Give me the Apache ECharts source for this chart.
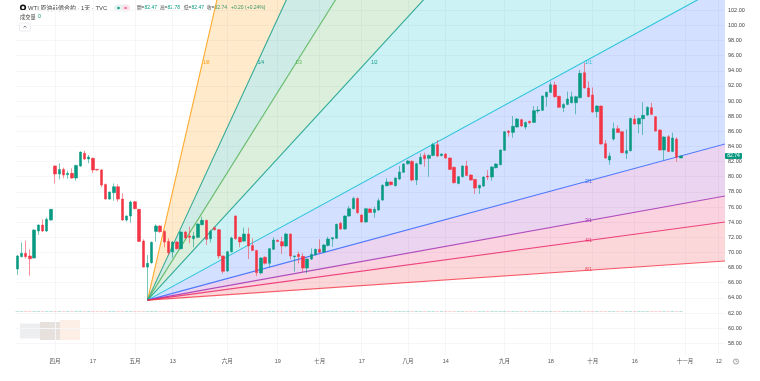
<!DOCTYPE html>
<html><head><meta charset="utf-8">
<style>html,body{margin:0;padding:0;background:#fff}#c{width:760px;height:381px;filter:blur(0.35px)}</style>
<script src="https://cdn.jsdelivr.net/npm/echarts@6/dist/echarts.min.js"></script>
</head><body><div id="c"></div>
<script>
// [open, close, low, high]
const candles = [
[67.81,69.53,67.02,69.66],[69.44,69.88,69.35,71.33],[69.88,69.44,69.2,71.55],[69.53,69.17,66.93,70.41],[69.26,72.96,69.2,73.05],
[72.83,73.62,72.3,73.7],[73.62,72.83,72.7,74.37],[72.83,74.37,72.7,74.63],[74.28,75.69,74.2,75.75],[81.41,80.36,79.12,81.5],
[80.36,80.97,79.65,81.77],[80.97,80.23,79.79,81.2],[80.27,80.45,79.74,80.8],[80.45,79.83,79.74,81.1],[79.83,81.5,79.48,81.6],
[81.41,83.26,81.3,83.35],[83.09,82.34,82.2,83.44],[82.34,82.6,81.77,82.87],[82.43,80.89,80.45,82.56],[80.97,80.89,80.8,81.05],
[80.89,78.9,78.6,81.0],[78.99,77.05,77.0,79.1],[77.05,77.98,76.95,78.05],[77.89,78.68,76.83,79.12],[78.68,77.05,76.7,79.0],
[77.05,74.28,74.2,77.8],[74.28,74.81,74.06,74.9],[74.81,76.66,73.93,76.84],[76.7,75.78,75.7,76.8],[75.69,71.46,71.4,75.75],
[71.5,68.07,68.0,71.73],[68.07,68.56,63.7,69.66],[68.65,71.33,68.5,71.45],[72.78,73.49,71.42,73.71],[73.49,72.74,72.6,73.6],
[72.78,71.37,70.67,72.9],[71.46,69.97,69.66,71.86],[70.05,71.37,69.3,71.5],[71.37,70.49,70.4,71.5],[70.49,72.7,70.4,72.8],
[72.7,71.9,71.8,72.8],[72.17,71.99,71.2,73.4],[71.81,72.17,70.67,72.74],[71.99,73.75,71.9,73.85],[73.66,74.24,73.6,74.72],
[74.24,71.73,70.98,74.3],[71.81,72.78,71.3,73.0],[73.27,73.0,72.9,73.4],[73.0,69.53,69.17,73.1],[69.53,67.5,67.2,69.6],
[67.54,70.1,67.45,70.2],[70.1,71.9,70.0,72.08],[74.81,71.81,71.7,74.9],[71.99,71.37,70.67,72.1],[71.5,72.43,71.37,73.27],
[72.43,70.85,69.13,73.27],[70.93,70.27,70.2,71.86],[70.27,67.32,66.88,70.3],[67.28,69.26,67.1,69.4],[69.35,68.56,68.4,69.5],
[68.56,70.49,68.03,70.6],[70.41,71.64,70.3,71.99],[71.6,71.46,71.4,71.7],[71.42,70.85,69.79,72.08],[70.85,72.43,70.7,72.61],
[72.43,69.53,69.08,72.5],[69.44,69.53,67.46,69.6],[69.75,69.44,68.56,70.1],[69.48,67.94,67.46,69.9],[67.94,69.13,67.24,69.2],
[69.13,69.75,69.0,70.54],[69.7,70.41,69.6,70.5],[70.41,70.01,69.9,71.73],[70.05,70.98,69.9,71.1],[70.93,71.77,70.8,72.08],
[71.77,71.95,70.76,72.0],[71.86,73.71,71.8,73.8],[73.84,73.09,73.0,74.06],[73.09,74.81,73.0,74.9],[74.81,75.78,74.7,76.13],
[75.78,77.14,75.7,77.36],[77.14,75.25,75.1,77.25],[74.94,74.02,73.95,75.05],[74.02,75.78,73.95,75.85],[75.73,75.29,75.2,75.85],
[75.29,75.69,74.59,76.04],[75.6,76.84,75.5,77.14],[76.92,78.86,76.8,79.0],[78.82,79.3,78.7,79.79],[79.3,78.95,78.85,79.4],
[78.82,79.83,78.7,79.9],[79.7,80.62,79.6,81.41],[80.58,81.68,80.5,81.8],[81.72,82.07,81.6,82.2],[82.03,79.56,79.4,82.2],
[79.56,81.72,78.9,81.85],[81.68,82.56,81.6,83.09],[82.82,82.38,81.33,83.18],[82.43,82.82,80.0,82.95],[82.82,84.23,82.7,84.5],
[84.23,82.74,82.6,84.85],[82.78,83.0,82.7,83.1],[83.0,82.47,82.4,83.1],[82.47,80.97,80.9,82.55],[81.24,79.21,79.1,81.35],
[79.12,80.0,79.0,80.1],[80.0,81.41,79.9,81.5],[81.41,80.18,80.1,82.12],[80.23,79.56,79.5,80.3],[79.65,78.51,77.72,79.7],
[78.51,78.86,77.72,78.95],[78.77,79.96,78.65,80.05],[80.09,79.96,79.56,80.89],[79.96,81.28,79.48,81.4],[81.2,81.68,81.1,81.8],
[81.59,83.53,81.5,83.6],[83.49,85.95,83.4,86.05],[86.04,85.86,85.29,86.15],[85.86,86.66,85.16,88.02],[86.57,87.62,86.5,87.75],
[87.54,86.7,86.6,87.65],[86.57,87.18,86.26,87.3],[87.32,87.14,87.0,87.4],[87.18,88.73,87.1,89.34],[88.68,88.81,88.37,89.34],
[88.77,90.66,88.7,90.75],[90.57,91.15,89.25,91.25],[91.15,92.16,91.05,92.56],[92.12,90.57,90.45,92.56],[90.62,89.17,89.1,90.7],
[89.12,89.56,88.55,89.7],[89.56,90.27,89.45,91.24],[89.78,90.57,89.7,91.24],[89.78,90.57,88.24,90.7],[90.44,93.66,90.35,94.1],
[93.75,91.72,91.65,95.07],[91.72,90.57,90.5,92.6],[90.8,88.55,88.45,91.8],[88.6,89.34,87.8,89.45],[89.34,84.32,84.25,89.4],
[84.37,82.47,82.4,84.85],[82.21,82.74,81.59,83.18],[84.98,86.35,84.76,87.14],[86.35,85.86,85.8,86.79],[85.95,83.18,83.1,86.05],
[83.09,83.44,82.34,86.26],[83.44,87.71,83.35,87.8],[87.62,86.96,86.9,88.15],[86.96,87.71,85.73,87.8],[87.67,88.11,85.51,89.83],
[88.15,89.17,88.05,89.3],[89.12,88.24,88.15,89.78],[87.93,86.04,85.95,88.0],[86.17,83.53,83.45,86.25],[83.53,85.25,82.2,85.35],
[85.29,83.35,83.25,85.51],[83.35,85.12,83.25,85.82],[84.98,82.56,81.99,85.2],[82.47,82.74,82.47,82.78]
];
const slotCount = 169;
const tickSlots  = [9,18,28,37,50,62,72,82,93,102,116,127,137,147,159,167];
const tickLabels = ['四月','17','五月','13','六月','19','七月','17','八月','14','九月','18','十月','16','十一月','12'];
const priceTicks = [58,60,62,64,66,68,70,72,74,76,78,80,82,84,86,88,90,92,94,96,98,100,102];
const fanOrigin  = [31, 63.7];
const fanEndSlot = 169;
const fanNames   = ['1/8','1/4','1/3','1/2','1/1','2/1','3/1','4/1','8/1'];
const fanEnds    = [394.9,229.3,186,147,105.5,84.4,77.5,74.05,68.88];
const fanColors  = ['#ff9800','#089981','#4caf50','#089981','#00bcd4','#2962ff','#9c27b0','#e91e63','#f23645'];
const bandColors = ['#ff9800','#089981','#4caf50','#00bcd4','#2962ff','#9c27b0','#e91e63','#f23645'];
const fanLabelSlot  = [45,58,67,85,136,136,136,136,136];
const fanLabelPrice = [95,95,95,95,95,79.4,74.25,71.6,67.65];
const volumeLevel = 0;
const lastClose = 82.74;
const UP='#089981', DOWN='#f23645';
const FONT="'Liberation Sans','Noto Sans CJK TC',sans-serif";

const xCats = Array.from({length:slotCount},(_, i)=>{const k=tickSlots.indexOf(i);return k<0?'':tickLabels[k];});
const isTick = i => tickSlots.indexOf(i)>=0;

const chart = echarts.init(document.getElementById('c'),null,{renderer:'canvas'});

const clipOf = cs => ({type:'rect',shape:{x:cs.x,y:cs.y,width:cs.width,height:cs.height}});

function t(x,y,text,fill,size,extra){return Object.assign({type:'text',x,y,silent:true,style:{text,fill,font:size+'px '+FONT,textVerticalAlign:'middle'}},extra||{});}

chart.setOption({
  animation:false, backgroundColor:'#fff',
  grid:{left:15.2,right:35,top:0,height:355,containLabel:false},
  xAxis:{type:'category',data:xCats,boundaryGap:true,
    axisLine:{show:false},axisTick:{show:false,alignWithLabel:true,interval:isTick},
    axisLabel:{interval:isTick,fontSize:5.5,color:'#555',margin:4,fontFamily:FONT,hideOverlap:false},
    splitLine:{show:true,alignWithLabel:true,interval:isTick,lineStyle:{color:'#f6f6f8',width:1}}},
  yAxis:[{type:'value',position:'right',min:56.45,max:103.35,scale:true,
    axisLine:{show:false},
    axisTick:{show:false,customValues:priceTicks},
    axisLabel:{customValues:priceTicks,fontSize:5.5,color:'#444',margin:3,fontFamily:FONT,formatter:v=>v.toFixed(2)},
    splitLine:{show:true,lineStyle:{color:'#f6f6f8',width:1}}},
    {type:'value',show:false,min:-0.1396,max:1,splitLine:{show:false}}],
  series:[
    {type:'custom',coordinateSystem:'cartesian2d',silent:true,z:1,clip:true,
     encode:{x:0,y:1},data:bandColors.map((c,i)=>[fanEndSlot,fanEnds[i],fanEnds[i+1]]),
     renderItem(p,api){
       const o=api.coord(fanOrigin),a=api.coord([api.value(0),api.value(1)]),b=api.coord([api.value(0),api.value(2)]);
       return {type:'polygon',clipPath:clipOf(p.coordSys),shape:{points:[o,a,b]},style:{fill:bandColors[p.dataIndex],opacity:0.2}};
     }},
    {type:'custom',coordinateSystem:'cartesian2d',silent:true,z:2,clip:true,
     encode:{x:0,y:1},data:fanEnds.map(v=>[fanEndSlot,v]),
     renderItem(p,api){
       const o=api.coord(fanOrigin),a=api.coord([api.value(0),api.value(1)]);
       return {type:'line',clipPath:clipOf(p.coordSys),shape:{x1:o[0],y1:o[1],x2:a[0],y2:a[1]},style:{stroke:fanColors[p.dataIndex],lineWidth:1.1,opacity:0.8}};
     }},
    {type:'scatter',yAxisIndex:1,silent:true,z:3,symbol:'rect',symbolSize:[3.4,1],
     data:candles.map((c,i)=>({value:[i,volumeLevel],itemStyle:{color:c[1]>=c[0]?'rgba(8,153,129,.35)':'rgba(242,54,69,.28)'}}))},
    {type:'candlestick',z:4,barWidth:3,data:candles,silent:true,
     itemStyle:{color:UP,color0:DOWN,borderColor:'rgba(8,153,129,.55)',borderColor0:'rgba(242,54,69,.55)',borderWidth:1}},
    {type:'custom',coordinateSystem:'cartesian2d',silent:true,z:5,
     encode:{x:0,y:1},data:fanNames.map((n,i)=>[fanLabelSlot[i],fanLabelPrice[i]]),
     renderItem(p,api){
       const q=api.coord([api.value(0),api.value(1)]);
       return {type:'text',x:q[0],y:q[1],style:{text:fanNames[p.dataIndex],fill:fanColors[p.dataIndex],font:'4.5px '+FONT,textAlign:'center',textVerticalAlign:'middle'}};
     }},
    {type:'custom',coordinateSystem:'cartesian2d',silent:true,z:6,
     encode:{x:0,y:1},data:[[158,lastClose]],
     renderItem(p,api){
       const q=api.coord([api.value(0),api.value(1)]);const rx=p.coordSys.x+p.coordSys.width;
       return {type:'group',children:[
         {type:'rect',shape:{x:rx,y:q[1]-3,width:17,height:6,r:1},style:{fill:UP}},
         {type:'text',x:rx+8.5,y:q[1],style:{text:lastClose.toFixed(2),fill:'#fff',font:'5px '+FONT,textAlign:'center',textVerticalAlign:'middle'}}
       ]};
     }}
  ],
  graphic:[
    {type:'rect',shape:{x:20,y:323.5,width:20,height:15},style:{fill:'#eceef0'},silent:true},
    {type:'rect',shape:{x:40,y:322,width:20,height:18},style:{fill:'#e6e1dc'},silent:true},
    {type:'rect',shape:{x:60,y:320,width:20,height:20},style:{fill:'#fdeee6'},silent:true},
    {type:'circle',shape:{cx:23,cy:7.5,r:2.3},style:{fill:'none',stroke:'#111',lineWidth:1.6},silent:true},
    t(28,8,'WTI 原油差價合約 · 1天 · TVC','#444',5.9),
    {type:'rect',shape:{x:114,y:4.5,width:16,height:7,r:3.5},style:{fill:'#e6f4f1'},silent:true},
    {type:'rect',shape:{x:122,y:4.5,width:8,height:7,r:3.5},style:{fill:'#fde3e9'},silent:true},
    {type:'circle',shape:{cx:118.5,cy:8,r:1.2},style:{fill:UP},silent:true},
    t(124,8,'=','#e91e63',5.5),
    t(137,8,'開=','#444',4.6),t(144.5,8,'82.47',UP,5),
    t(160,8,'高=','#444',4.6),t(167.5,8,'82.78',UP,5),
    t(184,8,'低=','#444',4.6),t(191.5,8,'82.47',UP,5),
    t(207,8,'收=','#444',4.6),t(214.5,8,'82.74',UP,5),
    t(231,8,'+0.20 (+0.24%)',UP,5),
    t(20,17.5,'成交量','#444',5.2),t(38,17,'0',UP,5.2),
    {type:'rect',shape:{x:19.5,y:23,width:11,height:8,r:1},style:{fill:'#fff',stroke:'#e0e3eb',lineWidth:0.7},silent:true},
    {type:'polyline',shape:{points:[[23.5,27.6],[25,26.2],[26.5,27.6]]},style:{fill:'none',stroke:'#444',lineWidth:0.7},silent:true},
    {type:'circle',shape:{cx:736,cy:361.5,r:2.6},style:{fill:'none',stroke:'#666',lineWidth:0.6},silent:true},
    {type:'polyline',shape:{points:[[736,360],[736,361.7],[737.2,361.7]]},style:{fill:'none',stroke:'#666',lineWidth:0.5},silent:true}
  ]
});
</script></body></html>
